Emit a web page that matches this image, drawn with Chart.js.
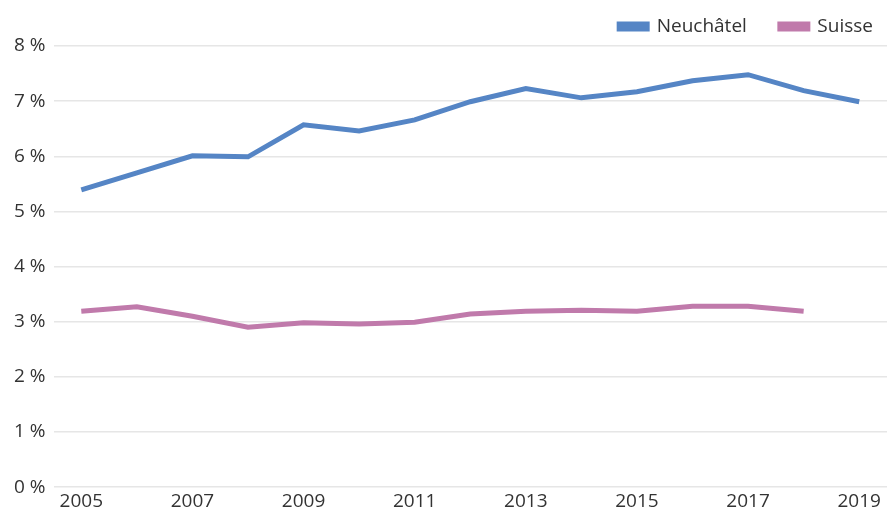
<!DOCTYPE html>
<html>
<head>
<meta charset="utf-8">
<script src="https://cdn.jsdelivr.net/npm/chart.js@4/dist/chart.umd.min.js"></script>
<style>
  html, body { margin: 0; padding: 0; background: #fff; }
  #wrap { width: 888px; height: 516px; position: relative; }
</style>
</head>
<body>
<div id="wrap"><canvas id="lineChart"></canvas></div>
<script>
// Years on the x axis
const years = ['2005', '2006', '2007', '2008', '2009', '2010', '2011', '2012',
               '2013', '2014', '2015', '2016', '2017', '2018', '2019'];

// Share in percent
const neuchatel = [5.39, 5.70, 6.01, 5.99, 6.57, 6.46, 6.66, 6.99,
                   7.23, 7.06, 7.17, 7.37, 7.48, 7.19, 6.99];
const suisse = [3.19, 3.27, 3.10, 2.90, 2.98, 2.96, 2.99, 3.14,
                3.19, 3.21, 3.19, 3.28, 3.28, 3.19, null];

const seriesNames = ['Neuchâtel', 'Suisse'];
const seriesColors = ['#5585c5', '#c07aab'];

const fontFamily = "'Open Sans', sans-serif";

function buildChart() {
  const ctx = document.getElementById('lineChart').getContext('2d');

  new Chart(ctx, {
    type: 'line',
    data: {
      labels: years,
      datasets: [
        {
          label: seriesNames[0],
          data: neuchatel,
          borderColor: seriesColors[0],
          backgroundColor: seriesColors[0],
          borderWidth: 5,
          pointRadius: 0,
          tension: 0
        },
        {
          label: seriesNames[1],
          data: suisse,
          borderColor: seriesColors[1],
          backgroundColor: seriesColors[1],
          borderWidth: 5,
          pointRadius: 0,
          tension: 0
        }
      ]
    },
    options: {
      responsive: true,
      maintainAspectRatio: false,
      animation: false,
      layout: { padding: { left: 6, right: 1, top: 3, bottom: 0 } },
      plugins: {
        tooltip: { enabled: false },
        legend: {
          display: true,
          position: 'top',
          align: 'end',
          labels: {
            boxWidth: 28,
            boxHeight: 5,
            padding: 14,
            color: '#333',
            font: { family: fontFamily, size: 19 },
            // a little extra room after the first item, as in the original
            generateLabels: function(chart) {
              const items = Chart.defaults.plugins.legend.labels.generateLabels(chart);
              items[0].text = items[0].text + '\u2002\u2002';
              return items;
            }
          }
        }
      },
      scales: {
        x: {
          offset: true,
          grid: { display: false, drawTicks: false },
          border: { display: false },
          ticks: {
            color: '#333',
            font: { family: fontFamily, size: 19 },
            maxRotation: 0,
            autoSkip: false,
            padding: 3,
            callback: function(value, index) {
              return index % 2 === 0 ? years[index] : '';
            }
          }
        },
        y: {
          min: 0,
          max: 8,
          grid: { color: '#e6e6e6', lineWidth: 1.5, drawTicks: false },
          border: { display: false },
          ticks: {
            stepSize: 1,
            color: '#333',
            padding: 8,
            font: { family: fontFamily, size: 19 },
            callback: function(value) {
              return value + ' %';
            }
          }
        }
      }
    }
  });
}

window.onload = function() {
  buildChart();
};
</script>
</body>
</html>
